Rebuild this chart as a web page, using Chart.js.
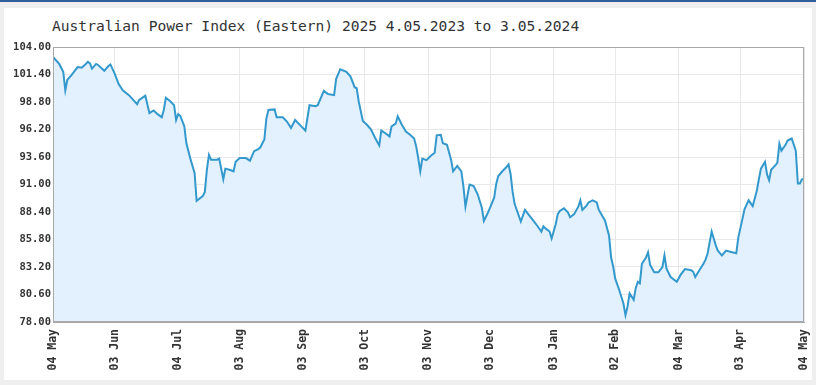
<!DOCTYPE html>
<html>
<head>
<meta charset="utf-8">
<script src="https://cdn.jsdelivr.net/npm/chart.js@4.4.1/dist/chart.umd.min.js"></script>
<style>
  html, body { margin: 0; padding: 0; }
  body { width: 816px; height: 385px; background: #efefef; position: relative; overflow: hidden; border-top: 2px solid #2f5f9a; box-sizing: border-box; }
  #panel { position: absolute; left: 4px; top: 6px; width: 808px; height: 372px; background: #fff; }
  #title { position: absolute; left: 52px; top: 15px; font: 14.6px "DejaVu Sans Mono", monospace; color: #333; white-space: nowrap; }
  #chart { position: absolute; left: 0; top: -2px; }
</style>
</head>
<body>
<div id="panel"></div>
<div id="title">Australian Power Index (Eastern) 2025 4.05.2023 to 3.05.2024</div>
<canvas id="chart" width="816" height="385"></canvas>
<script>
// days since 04 May 2023 and index level
const days = [0, 3, 5, 6, 7, 9, 12, 14, 16, 17, 18, 19, 21, 22, 25, 27, 28, 30, 32, 34,
  37, 41, 42, 45, 47, 49, 51, 53, 54, 55, 57, 59, 60, 61, 62, 64, 65, 67, 69, 70,
  73, 74, 75, 76, 77, 80, 81, 83, 84, 86, 88, 89, 91, 94, 96, 98, 100, 101, 103, 104,
  105, 108, 109, 112, 114, 116, 118, 121, 123, 125, 128, 129, 132, 134, 137, 138, 140, 143, 145, 147,
  148, 149, 151, 153, 155, 157, 159, 160, 162, 164, 165, 167, 168, 170, 172, 174, 176, 177, 178, 179,
  180, 182, 184, 186, 187, 189, 190, 192, 194, 195, 197, 199, 200, 201, 203, 205, 207, 209, 210, 212,
  215, 216, 217, 219, 221, 222, 223, 224, 225, 228, 230, 232, 234, 236, 238, 239, 240, 242, 243, 245,
  246, 247, 249, 251, 252, 254, 256, 257, 258, 260, 261, 263, 265, 266, 269, 271, 272, 273, 274, 276,
  278, 279, 280, 281, 282, 283, 284, 285, 286, 287, 289, 290, 291, 293, 295, 297, 298, 299, 301, 303,
  304, 306, 308, 311, 312, 313, 315, 317, 318, 319, 321, 323, 324, 326, 328, 330, 333, 334, 336, 337,
  339, 341, 343, 344, 345, 347, 348, 349, 350, 352, 353, 354, 355, 357, 358, 360, 362, 363, 364, 365, 366];
const values = [103.06, 102.4, 101.65, 99.9, 100.9, 101.35, 102.1, 102.05, 102.4, 102.6, 102.45, 101.95, 102.4, 102.3, 101.75, 102.2, 102.35, 101.5, 100.5, 99.9,
  99.45, 98.6, 99.0, 99.4, 97.75, 98.0, 97.65, 97.35, 98.05, 99.2, 98.9, 98.5, 97.1, 97.65, 97.5, 96.5, 94.9, 93.4, 92.1, 89.45,
  89.9, 90.3, 92.4, 93.8, 93.35, 93.35, 93.45, 91.5, 92.5, 92.4, 92.25, 93.15, 93.5, 93.5, 93.25, 94.15, 94.35, 94.5, 95.25, 97.25,
  98.05, 98.1, 97.35, 97.35, 96.95, 96.35, 97.1, 96.5, 96.1, 98.5, 98.4, 98.5, 99.85, 99.55, 99.45, 101.0, 101.9, 101.65, 101.2, 100.2,
  100.1, 98.85, 97.0, 96.65, 96.2, 95.4, 94.7, 96.1, 95.85, 95.55, 96.5, 96.75, 97.45, 96.65, 96.0, 95.7, 95.35, 94.6, 93.5, 92.25,
  93.45, 93.3, 93.7, 94.0, 95.65, 95.7, 94.9, 94.75, 93.35, 92.25, 92.75, 92.25, 90.85, 88.9, 91.0, 90.85, 90.05, 88.8, 87.55, 88.35,
  89.75, 91.05, 91.8, 92.25, 92.65, 92.9, 92.0, 90.3, 89.15, 87.5, 88.6, 88.1, 87.6, 87.1, 86.55, 87.05, 86.85, 86.55, 85.9, 87.25,
  88.2, 88.5, 88.75, 88.35, 87.9, 88.2, 88.9, 89.5, 88.6, 89.0, 89.3, 89.5, 89.3, 88.6, 87.6, 86.15, 84.1, 83.25, 82.1, 81.0,
  79.75, 78.65, 79.45, 80.7, 80.4, 80.1, 81.2, 81.8, 81.65, 83.5, 84.1, 84.6, 83.4, 82.7, 82.7, 83.2, 84.3, 83.05, 82.25, 81.95,
  81.8, 82.5, 83.0, 82.9, 82.75, 82.25, 82.9, 83.5, 83.9, 84.45, 86.55, 85.25, 84.75, 84.3, 84.75, 84.65, 84.5, 86.0, 87.75, 88.65,
  89.5, 88.95, 90.4, 91.5, 92.5, 93.15, 91.95, 91.4, 92.4, 92.8, 93.05, 94.85, 94.2, 94.75, 95.15, 95.35, 94.2, 91.1, 91.1, 91.5, 91.5];

const xTickDays = [0, 30, 61, 91, 122, 152, 183, 213, 244, 274, 305, 335, 366];
const xTickLabels = ['04 May', '03 Jun', '04 Jul', '03 Aug', '03 Sep', '03 Oct', '03 Nov',
  '03 Dec', '03 Jan', '02 Feb', '04 Mar', '03 Apr', '04 May'];
const yTicks = [78, 80.6, 83.2, 85.8, 88.4, 91, 93.6, 96.2, 98.8, 101.4, 104];

const frame = {
  id: 'frame',
  afterDraw(chart) {
    const a = chart.chartArea, c = chart.ctx;
    c.save();
    c.strokeStyle = '#a8a8a8';
    c.lineWidth = 1;
    c.strokeRect(a.left + 0.5, a.top + 0.5, a.right - a.left - 1, a.bottom - a.top - 1);
    c.restore();
  }
};

new Chart(document.getElementById('chart'), {
  type: 'line',
  data: {
    datasets: [{
      data: days.map((d, i) => ({ x: d, y: values[i] })),
      borderColor: '#3399cc',
      backgroundColor: '#e3f1fe',
      borderWidth: 2,
      fill: 'start',
      pointRadius: 0,
      tension: 0
    }]
  },
  options: {
    responsive: false,
    animation: false,
    layout: { padding: { left: 0, right: 12, top: 47, bottom: 0 } },
    plugins: { legend: { display: false }, tooltip: { enabled: false } },
    scales: {
      x: {
        type: 'linear',
        min: 0,
        max: 366,
        afterBuildTicks: s => { s.ticks = xTickDays.map(v => ({ value: v })); },
        afterFit: s => { s.height = 63; s.paddingLeft = 0; s.paddingRight = 0; },
        grid: { color: '#e8e8e8', drawTicks: false },
        border: { color: '#a8a8a8' },
        ticks: {
          autoSkip: false,
          minRotation: 90,
          maxRotation: 90,
          padding: 7,
          color: '#333',
          font: { family: 'DejaVu Sans Mono', size: 11.5, weight: 'bold' },
          callback: v => xTickLabels[xTickDays.indexOf(v)]
        }
      },
      y: {
        min: 78,
        max: 104,
        afterBuildTicks: s => { s.ticks = yTicks.map(v => ({ value: v })); },
        afterFit: s => { s.width = 53; },
        grid: { color: '#e8e8e8', drawTicks: false },
        border: { color: '#a8a8a8' },
        ticks: {
          padding: 2,
          color: '#333',
          font: { family: 'DejaVu Sans Mono', size: 10.5, weight: 'bold' },
          callback: v => v.toFixed(2)
        }
      }
    }
  },
  plugins: [frame]
});
</script>
</body>
</html>
